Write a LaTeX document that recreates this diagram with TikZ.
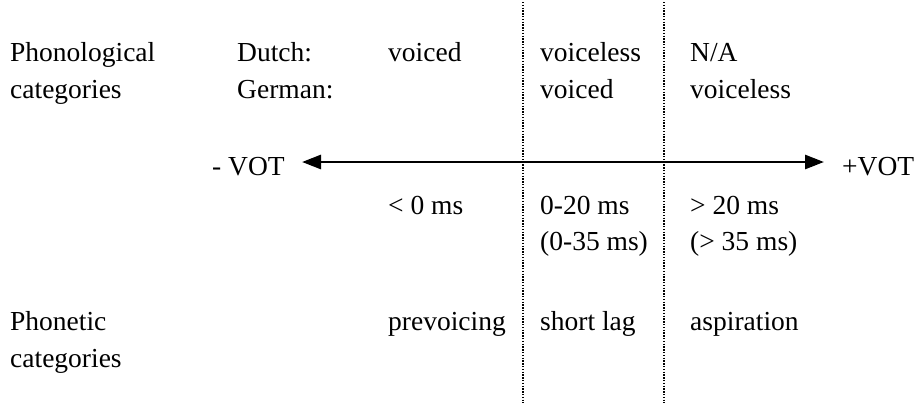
\documentclass[tikz,border=0pt]{standalone}
\usepackage{fontspec}
\setmainfont{Liberation Serif}
\usepackage{tikz}
\usetikzlibrary{arrows.meta}

\begin{document}
\begin{tikzpicture}[
		    x=1pt, y=-1pt,
		    every node/.style={anchor=base west, inner sep=0pt, font=\fontsize{27.5}{33}\selectfont}
		]
		\tikzset{
		    seta/.style={line width=2.8pt, {Triangle[length=19pt,width=14pt]}-{Triangle[length=19pt,width=14pt]}},
		    divisa/.style={line width=1.3pt, dash pattern=on 1.3pt off 1.5pt}
		}
		\useasboundingbox (0,0) rectangle (919,405);
		% fonologia
		\node (fon1) at (10,61) {Phonological};
		\node (fon2) at (10,98) {categories};
		\node (nl) at (237,61) {Dutch:};
		\node (de) at (237,98) {German:};
		\node (nlA) at (388,61) {voiced};
		\node (nlB) at (540,61) {voiceless};
		\node (nlC) at (690,61) {N/A};
		\node (deB) at (540,98) {voiced};
		\node (deC) at (690,98) {voiceless};
		% eixo
		\node (neg) at (212,175) {- VOT};
		\node (pos) at (842,175) {+VOT};
		\coordinate (ini) at (302,162);
		\coordinate (fim) at (824,162);
		\draw[seta] (ini) -- (fim);
		% valores
		\node (msA) at (388,214) {< 0 ms};
		\node (msB) at (540,214) {0-20 ms};
		\node (msB2) at (540,250) {(0-35 ms)};
		\node (msC) at (690,214) {> 20 ms};
		\node (msC2) at (690,250) {(> 35 ms)};
		% fonetica
		\node (fnt1) at (10,330) {Phonetic};
		\node (fnt2) at (10,367) {categories};
		\node (preA) at (388,330) {prevoicing};
		\node (lagB) at (540,330) {short lag};
		\node (aspC) at (690,330) {aspiration};
		% divisas
		\coordinate (d1a) at (523,2);
		\coordinate (d1b) at (523,403);
		\coordinate (d2a) at (664,2);
		\coordinate (d2b) at (664,403);
		\draw[divisa] (d1a) -- (d1b);
		\draw[divisa] (d2a) -- (d2b);
		\end{tikzpicture}
\end{document}
